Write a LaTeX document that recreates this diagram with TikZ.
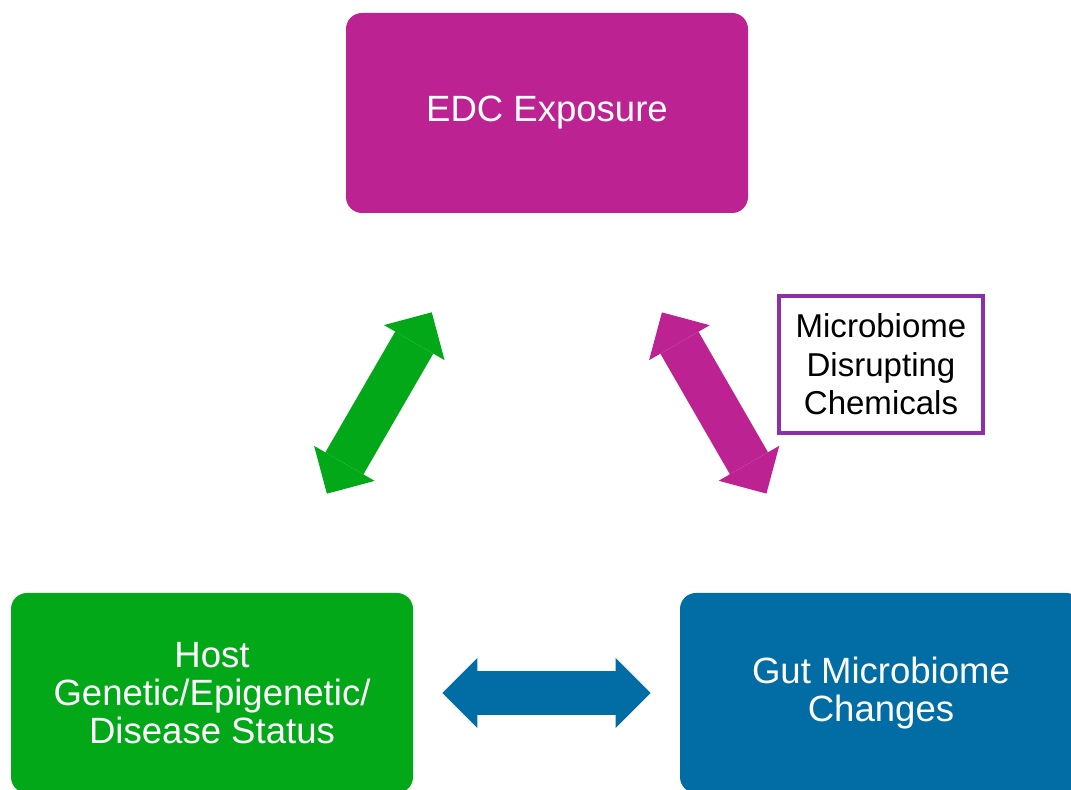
\documentclass[tikz,border=0pt]{standalone}
\usepackage{fontspec}
\setmainfont{Liberation Sans}
\usetikzlibrary{arrows.meta}
\definecolor{edcpink}{HTML}{BC2292}
\definecolor{hostgreen}{HTML}{02A817}
\definecolor{gutblue}{HTML}{016DA4}
\definecolor{mdcpurple}{HTML}{8B30A8}

\begin{document}
\begin{tikzpicture}[
  box/.style={rounded corners=0.4cm, minimum width=10.05cm, minimum height=5cm, align=center, text=white, font=\fontsize{26}{27}\selectfont},
  bigtip/.tip={Triangle[width=1.75cm, length=0.875cm, line width=0pt]},
  link/.style={line width=1.1cm, bigtip-bigtip}
]
\useasboundingbox (0,0) rectangle (26.775,19.75);
\clip (0,0) rectangle (26.775,19.75);

% the three boxes
\node[box, fill=edcpink] (edc) at (13.675,16.925) {EDC Exposure};
\node[box, fill=hostgreen] (host) at (5.3,2.425) {Host\\Genetic/Epigenetic/\\Disease Status};
\node[box, fill=gutblue] (gut) at (22.025,2.425) {Gut Microbiome\\Changes};

% label next to the pink arrow
\node[draw=mdcpurple, line width=2.5pt, fill=white, minimum width=5.1cm, minimum height=3.425cm, align=center, font=\fontsize{23.5}{27.5}\selectfont] (mdc) at (22.025,10.6375) {Microbiome\\Disrupting\\Chemicals};

% double arrows
\draw[link, hostgreen, shorten <=2.86cm, shorten >=2.86cm] (edc) -- (host);
\draw[link, edcpink, shorten <=2.86cm, shorten >=2.86cm] (edc) -- (gut);
\draw[link, gutblue, shorten <=0.725cm, shorten >=0.725cm] (host) -- (gut);
\end{tikzpicture}
\end{document}
